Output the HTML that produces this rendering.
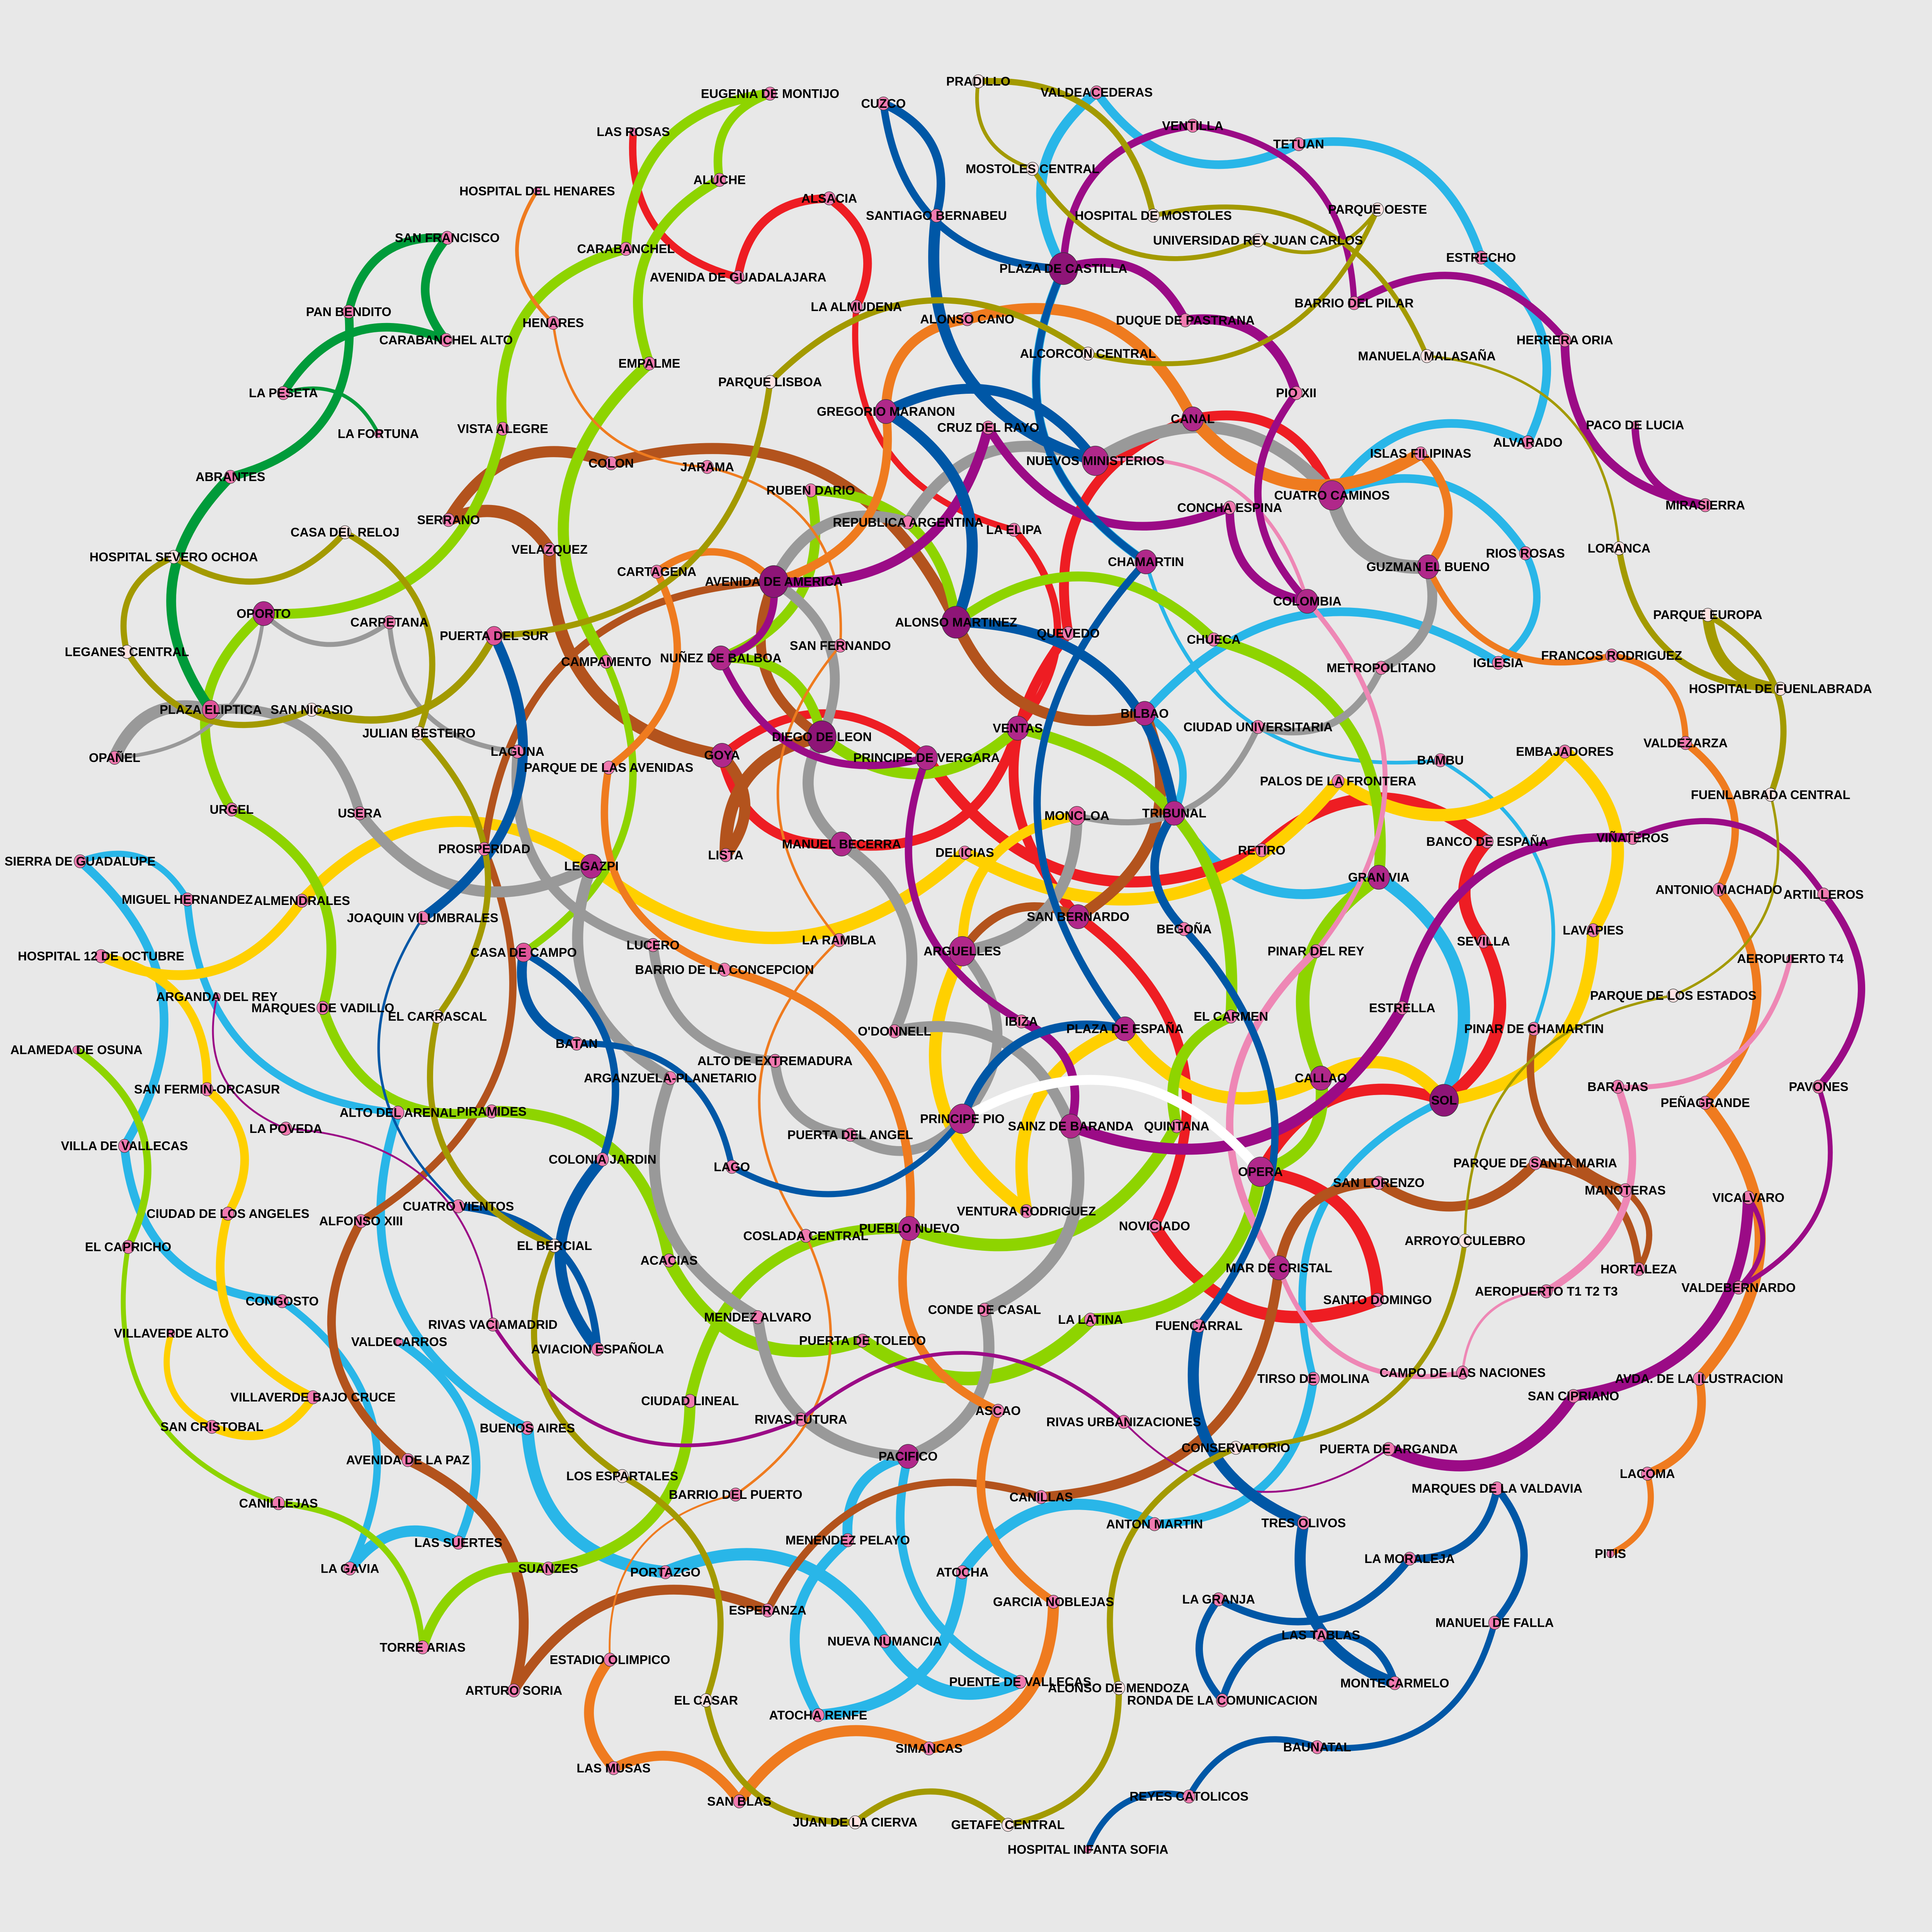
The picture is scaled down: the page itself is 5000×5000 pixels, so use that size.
<!DOCTYPE html>
<html><head><meta charset="utf-8"><title>Madrid Metro network graph</title>
<style>
html,body{margin:0;padding:0;background:#e8e8e8;}
#chart{display:block;width:5000px;height:5000px;}
.lbl{font-family:"Liberation Sans Narrow","Liberation Sans",sans-serif;font-weight:bold;font-size:10.2px;fill:#000;text-anchor:middle;dominant-baseline:central;}
</style></head>
<body>
<svg id="chart" viewBox="0 0 1568 1568" xmlns="http://www.w3.org/2000/svg">
<rect x="0" y="0" width="1568" height="1568" fill="#e8e8e8"/>
<g id="edges"></g>
<g id="nodes"></g>
<g id="labels"></g>
</svg>
<script>
const stations = [
["EUGENIA DE MONTIJO",625,76],["LAS ROSAS",514,107],["HOSPITAL DEL HENARES",436,155],["ALUCHE",584,146],["ALSACIA",673,161],
["CUZCO",717,84],["PRADILLO",794,66],["VALDEACEDERAS",890,75],["VENTILLA",968,102],["TETUAN",1054,117],
["MOSTOLES CENTRAL",838,137],["SANTIAGO BERNABEU",760,175],["HOSPITAL DE MOSTOLES",936,175],["PARQUE OESTE",1118,170],
["UNIVERSIDAD REY JUAN CARLOS",1021,195],["SAN FRANCISCO",363,193],["CARABANCHEL",508,202],["AVENIDA DE GUADALAJARA",599,225],
["PLAZA DE CASTILLA",863,218],["ESTRECHO",1202,209],["LA ALMUDENA",695,249],["PAN BENDITO",283,253],["HENARES",449,262],
["DUQUE DE PASTRANA",962,260],["BARRIO DEL PILAR",1099,246],["CARABANCHEL ALTO",362,276],["ALONSO CANO",785,259],
["HERRERA ORIA",1270,276],["EMPALME",527,295],["ALCORCON CENTRAL",883,287],["MANUELA MALASAÑA",1158,289],
["PARQUE LISBOA",625,310],["LA PESETA",230,319],["PIO XII",1052,319],["GREGORIO MARANON",719,334],["LA FORTUNA",307,352],
["CANAL",968,340],["CRUZ DEL RAYO",802,347],["PACO DE LUCIA",1327,345],["VISTA ALEGRE",408,348],["ALVARADO",1240,359],
["ISLAS FILIPINAS",1153,368],["NUEVOS MINISTERIOS",889,374],["COLON",496,376],["JARAMA",574,379],["ABRANTES",187,387],
["RUBEN DARIO",658,398],["CUATRO CAMINOS",1081,402],["MIRASIERRA",1384,410],["CONCHA ESPINA",998,412],["SERRANO",364,422],
["REPUBLICA ARGENTINA",737,424],["LA ELIPA",823,430],["CASA DEL RELOJ",280,432],["LORANCA",1314,445],["VELAZQUEZ",446,446],
["HOSPITAL SEVERO OCHOA",141,452],["RIOS ROSAS",1238,449],["GUZMAN EL BUENO",1159,460],["CHAMARTIN",930,456],
["CARTAGENA",533,464],["AVENIDA DE AMERICA",628,472],["COLOMBIA",1061,488],["OPORTO",214,498],["PARQUE EUROPA",1386,499],
["ALONSO MARTINEZ",776,505],["CARPETANA",316,505],["PUERTA DEL SUR",401,516],["QUEVEDO",867,514],["CHUECA",985,519],
["SAN FERNANDO",682,524],["LEGANES CENTRAL",103,529],["FRANCOS RODRIGUEZ",1308,532],["IGLESIA",1216,538],["CAMPAMENTO",492,537],
["NUÑEZ DE BALBOA",585,534],["METROPOLITANO",1121,542],["HOSPITAL DE FUENLABRADA",1445,559],["PLAZA ELIPTICA",171,576],
["SAN NICASIO",253,576],["BILBAO",929,579],["CIUDAD UNIVERSITARIA",1021,590],["VENTAS",826,591],["JULIAN BESTEIRO",340,595],
["DIEGO DE LEON",667,598],["VALDEZARZA",1368,603],["EMBAJADORES",1270,610],["GOYA",586,613],["OPAÑEL",93,615],
["PRINCIPE DE VERGARA",752,615],["BAMBU",1169,617],["LAGUNA",420,610],["PARQUE DE LAS AVENIDAS",494,623],
["PALOS DE LA FRONTERA",1086,634],["FUENLABRADA CENTRAL",1437,645],["USERA",292,660],["TRIBUNAL",953,660],["MONCLOA",874,662],
["URGEL",188,657],["LISTA",589,694],["RETIRO",1024,690],["BANCO DE ESPAÑA",1207,683],["MANUEL BECERRA",683,685],
["PROSPERIDAD",393,689],["VIÑATEROS",1325,680],["DELICIAS",783,692],["LEGAZPI",480,703],["SIERRA DE GUADALUPE",65,699],
["ANTONIO MACHADO",1395,722],["ARTILLEROS",1480,726],["MIGUEL HERNANDEZ",152,730],["GRAN VIA",1119,712],["ALMENDRALES",245,731],
["JOAQUIN VILUMBRALES",343,745],["SAN BERNARDO",875,744],["BEGOÑA",961,754],["LAVAPIES",1293,755],["SEVILLA",1204,764],
["LA RAMBLA",681,763],["LUCERO",530,767],["ARGUELLES",781,772],["PINAR DEL REY",1068,772],["CASA DE CAMPO",425,773],
["HOSPITAL 12 DE OCTUBRE",82,776],["AEROPUERTO T4",1453,778],["BARRIO DE LA CONCEPCION",588,787],["PARQUE DE LOS ESTADOS",1358,808],
["ARGANDA DEL REY",176,809],["ESTRELLA",1138,818],["MARQUES DE VADILLO",262,818],["EL CARRASCAL",355,825],["EL CARMEN",999,825],
["IBIZA",829,829],["PINAR DE CHAMARTIN",1245,835],["PLAZA DE ESPAÑA",913,835],["O'DONNELL",726,837],["BATAN",468,847],
["ALAMEDA DE OSUNA",62,852],["ALTO DE EXTREMADURA",629,861],["CALLAO",1072,875],["ARGANZUELA-PLANETARIO",544,875],
["SOL",1172,893],["SAN FERMIN-ORCASUR",168,884],["BARAJAS",1313,882],["PAVONES",1476,882],["PIRAMIDES",399,902],
["ALTO DEL ARENAL",323,903],["PEÑAGRANDE",1384,895],["PRINCIPE PIO",781,908],["SAINZ DE BARANDA",869,914],["QUINTANA",955,914],
["LA POVEDA",232,916],["PUERTA DEL ANGEL",690,921],["VILLA DE VALLECAS",101,930],["COLONIA JARDIN",489,941],
["PARQUE DE SANTA MARIA",1246,944],["OPERA",1023,951],["LAGO",594,947],["SAN LORENZO",1119,960],["MANOTERAS",1319,966],
["VICALVARO",1419,972],["CUATRO VIENTOS",372,979],["VENTURA RODRIGUEZ",833,983],["CIUDAD DE LOS ANGELES",185,985],
["ALFONSO XIII",293,991],["NOVICIADO",937,995],["PUEBLO NUEVO",738,997],["COSLADA CENTRAL",654,1003],["ARROYO CULEBRO",1189,1007],
["EL CAPRICHO",104,1012],["EL BERCIAL",450,1011],["ACACIAS",543,1023],["MAR DE CRISTAL",1038,1029],["HORTALEZA",1330,1030],
["CONGOSTO",229,1056],["AEROPUERTO T1 T2 T3",1255,1048],["VALDEBERNARDO",1411,1045],["SANTO DOMINGO",1118,1055],
["MENDEZ ALVARO",615,1069],["CONDE DE CASAL",799,1063],["RIVAS VACIAMADRID",400,1075],["LA LATINA",885,1071],
["FUENCARRAL",973,1076],["VILLAVERDE ALTO",139,1082],["PUERTA DE TOLEDO",700,1088],["VALDECARROS",324,1089],
["AVIACION ESPAÑOLA",485,1095],["TIRSO DE MOLINA",1066,1119],["CAMPO DE LAS NACIONES",1187,1114],
["AVDA. DE LA ILUSTRACION",1379,1119],["VILLAVERDE BAJO CRUCE",254,1134],["CIUDAD LINEAL",560,1137],["SAN CIPRIANO",1277,1133],
["ASCAO",810,1145],["RIVAS URBANIZACIONES",912,1154],["RIVAS FUTURA",650,1152],["SAN CRISTOBAL",172,1158],["BUENOS AIRES",428,1159],
["CONSERVATORIO",1003,1175],["PUERTA DE ARGANDA",1127,1176],["PACIFICO",737,1182],["AVENIDA DE LA PAZ",331,1185],
["LOS ESPARTALES",505,1198],["LACOMA",1337,1196],["MARQUES DE LA VALDAVIA",1215,1208],["BARRIO DEL PUERTO",597,1213],
["CANILLAS",845,1215],["CANILLEJAS",226,1220],["ANTON MARTIN",937,1237],["TRES OLIVOS",1058,1236],["MENENDEZ PELAYO",688,1250],
["LAS SUERTES",372,1252],["PITIS",1307,1261],["LA MORALEJA",1144,1265],["LA GAVIA",284,1273],["SUANZES",445,1273],
["ATOCHA",781,1276],["PORTAZGO",540,1276],["LA GRANJA",989,1298],["GARCIA NOBLEJAS",855,1300],["ESPERANZA",623,1307],
["MANUEL DE FALLA",1213,1317],["LAS TABLAS",1072,1327],["NUEVA NUMANCIA",718,1332],["TORRE ARIAS",343,1337],
["ESTADIO OLIMPICO",495,1347],["PUENTE DE VALLECAS",828,1365],["MONTECARMELO",1132,1366],["ALONSO DE MENDOZA",908,1370],
["ARTURO SORIA",417,1372],["EL CASAR",573,1380],["RONDA DE LA COMUNICACION",992,1380],["ATOCHA RENFE",664,1392],
["SIMANCAS",754,1419],["BAUNATAL",1069,1418],["LAS MUSAS",498,1435],["SAN BLAS",600,1462],["REYES CATOLICOS",965,1458],
["JUAN DE LA CIERVA",694,1479],["GETAFE CENTRAL",818,1481],["HOSPITAL INFANTA SOFIA",883,1501]
];

const line1Stops = ["PINAR DE CHAMARTIN","BAMBU","CHAMARTIN","PLAZA DE CASTILLA","VALDEACEDERAS","TETUAN","ESTRECHO","ALVARADO","CUATRO CAMINOS","RIOS ROSAS","IGLESIA","BILBAO","TRIBUNAL","GRAN VIA","SOL","TIRSO DE MOLINA","ANTON MARTIN","ATOCHA","ATOCHA RENFE","MENENDEZ PELAYO","PACIFICO","PUENTE DE VALLECAS","NUEVA NUMANCIA","PORTAZGO","BUENOS AIRES","ALTO DEL ARENAL","MIGUEL HERNANDEZ","SIERRA DE GUADALUPE","VILLA DE VALLECAS","CONGOSTO","LA GAVIA","LAS SUERTES","VALDECARROS"];
const line1Bend = [-1,1,1,1,-1,1,1,-1,1,1,-1,1,-1,1,-1,1,-1,1,1,1,-1,1,-1,1,1,1,-1,1,-1,1,1,-1];
const line1Width = [3,3,7,8,7,7,7,7,7,6,7,6,8,10,6,7,9,9,8,8,7,10,10,10,7,6,5,7,7,6,9,7];

const line2Stops = ["LAS ROSAS","AVENIDA DE GUADALAJARA","ALSACIA","LA ALMUDENA","LA ELIPA","VENTAS","MANUEL BECERRA","GOYA","PRINCIPE DE VERGARA","RETIRO","BANCO DE ESPAÑA","SEVILLA","SOL","OPERA","SANTO DOMINGO","NOVICIADO","SAN BERNARDO","QUEVEDO","CANAL","CUATRO CAMINOS"];
const line2Bend = [-1,1,1,-1,1,1,1,1,-1,1,-1,1,-1,1,1,-1,1,1,1];
const line2Width = [6,7,7,5,6,8,8,7,9,10,10,10,9,10,10,8,8,8,8];

const line3Stops = ["VILLAVERDE ALTO","SAN CRISTOBAL","VILLAVERDE BAJO CRUCE","CIUDAD DE LOS ANGELES","SAN FERMIN-ORCASUR","HOSPITAL 12 DE OCTUBRE","ALMENDRALES","LEGAZPI","DELICIAS","PALOS DE LA FRONTERA","EMBAJADORES","LAVAPIES","SOL","CALLAO","PLAZA DE ESPAÑA","VENTURA RODRIGUEZ","ARGUELLES","MONCLOA"];
const line3Bend = [-1,-1,1,-1,-1,-1,1,-1,-1,-1,1,1,-1,1,-1,1,1];
const line3Width = [5,7,7,7,7,8,9,10,10,10,10,10,10,10,10,10,8];

const line4Stops = ["ARGUELLES","SAN BERNARDO","BILBAO","ALONSO MARTINEZ","COLON","SERRANO","VELAZQUEZ","GOYA","LISTA","DIEGO DE LEON","AVENIDA DE AMERICA","PROSPERIDAD","ALFONSO XIII","AVENIDA DE LA PAZ","ARTURO SORIA","ESPERANZA","CANILLAS","MAR DE CRISTAL","SAN LORENZO","PARQUE DE SANTA MARIA","HORTALEZA","MANOTERAS","PINAR DE CHAMARTIN"];
const line4Bend = [1,-1,1,-1,-1,1,-1,1,1,1,-1,1,-1,1,1,1,-1,1,-1,1,-1,1];
const line4Width = [7,9,9,9,9,10,10,9,10,8,6,6,7,8,8,6,8,8,8,6,5,6];

const line5Stops = ["ALAMEDA DE OSUNA","EL CAPRICHO","CANILLEJAS","TORRE ARIAS","SUANZES","CIUDAD LINEAL","PUEBLO NUEVO","QUINTANA","EL CARMEN","VENTAS","DIEGO DE LEON","NUÑEZ DE BALBOA","RUBEN DARIO","ALONSO MARTINEZ","CHUECA","GRAN VIA","CALLAO","OPERA","LA LATINA","PUERTA DE TOLEDO","ACACIAS","PIRAMIDES","MARQUES DE VADILLO","URGEL","OPORTO","VISTA ALEGRE","CARABANCHEL","EUGENIA DE MONTIJO","ALUCHE","EMPALME","CAMPAMENTO","CASA DE CAMPO"];
const line5Bend = [1,-1,1,1,-1,1,-1,1,-1,1,-1,-1,1,1,1,-1,1,1,1,1,-1,1,-1,1,-1,1,1,-1,-1,-1,1];
const line5Width = [6,4,5,8,9,9,10,9,9,9,8,8,8,8,9,11,10,10,11,10,9,8,8,8,8,8,8,7,8,9,6];

const line6Stops = ["LAGUNA","CARPETANA","OPORTO","OPAÑEL","PLAZA ELIPTICA","USERA","LEGAZPI","ARGANZUELA-PLANETARIO","MENDEZ ALVARO","PACIFICO","CONDE DE CASAL","SAINZ DE BARANDA","O'DONNELL","MANUEL BECERRA","DIEGO DE LEON","AVENIDA DE AMERICA","REPUBLICA ARGENTINA","NUEVOS MINISTERIOS","CUATRO CAMINOS","GUZMAN EL BUENO","METROPOLITANO","CIUDAD UNIVERSITARIA","MONCLOA","ARGUELLES","PRINCIPE PIO","PUERTA DEL ANGEL","ALTO DE EXTREMADURA","LUCERO","LAGUNA"];
const line6Bend = [1,1,1,1,1,-1,-1,-1,-1,-1,-1,-1,-1,1,-1,1,1,1,-1,1,1,1,1,1,1,1,1,1];
const line6Width = [4,4,3,10,8,9,9,9,9,9,10,9,9,9,8,9,9,10,11,8,6,5,9,8,8,8,8,8];

const line7Stops = ["HOSPITAL DEL HENARES","HENARES","JARAMA","SAN FERNANDO","LA RAMBLA","COSLADA CENTRAL","BARRIO DEL PUERTO","ESTADIO OLIMPICO","LAS MUSAS","SAN BLAS","SIMANCAS","GARCIA NOBLEJAS","ASCAO","PUEBLO NUEVO","BARRIO DE LA CONCEPCION","PARQUE DE LAS AVENIDAS","CARTAGENA","AVENIDA DE AMERICA","GREGORIO MARANON","ALONSO CANO","CANAL","ISLAS FILIPINAS","GUZMAN EL BUENO","FRANCOS RODRIGUEZ","VALDEZARZA","ANTONIO MACHADO","PEÑAGRANDE","AVDA. DE LA ILUSTRACION","LACOMA","PITIS"];
const line7Bend = [-1,-1,1,-1,-1,1,-1,-1,1,1,-1,1,1,-1,1,-1,1,-1,1,1,-1,1,-1,1,1,1,1,1,1];
const line7Width = [3,2,2,2,2,2,1.5,8,8,9,9,7,7,7,6,6,6,7,8,9,10,7,5,5,6,7,9,7,5];

const line8Stops = ["NUEVOS MINISTERIOS","COLOMBIA","PINAR DEL REY","MAR DE CRISTAL","CAMPO DE LAS NACIONES","AEROPUERTO T1 T2 T3","BARAJAS","AEROPUERTO T4"];
const line8Bend = [1,1,-1,-1,1,-1,-1];
const line8Width = [3,4,6,4,2,6,4];

const line9Stops = ["PACO DE LUCIA","MIRASIERRA","HERRERA ORIA","BARRIO DEL PILAR","VENTILLA","PLAZA DE CASTILLA","DUQUE DE PASTRANA","PIO XII","COLOMBIA","CONCHA ESPINA","CRUZ DEL RAYO","AVENIDA DE AMERICA","NUÑEZ DE BALBOA","PRINCIPE DE VERGARA","IBIZA","SAINZ DE BARANDA","ESTRELLA","VIÑATEROS","ARTILLEROS","PAVONES","VALDEBERNARDO","VICALVARO","SAN CIPRIANO","PUERTA DE ARGANDA","RIVAS URBANIZACIONES","RIVAS FUTURA","RIVAS VACIAMADRID","LA POVEDA","ARGANDA DEL REY"];
const line9Bend = [-1,1,-1,-1,-1,1,1,-1,1,1,1,1,-1,-1,1,-1,1,1,1,1,-1,1,1,1,-1,1,-1,1];
const line9Width = [6,7,6,5,6,7,8,6,7,7,8,6,6,6,7,9,7,5,6,4,4,9,9,1.5,3,3,1.5,1.5];

const line10Stops = ["HOSPITAL INFANTA SOFIA","REYES CATOLICOS","BAUNATAL","MANUEL DE FALLA","MARQUES DE LA VALDAVIA","LA MORALEJA","LA GRANJA","RONDA DE LA COMUNICACION","LAS TABLAS","MONTECARMELO","TRES OLIVOS","FUENCARRAL","BEGOÑA","TRIBUNAL","ALONSO MARTINEZ","GREGORIO MARANON","NUEVOS MINISTERIOS","SANTIAGO BERNABEU","CUZCO","PLAZA DE CASTILLA","CHAMARTIN","PLAZA DE ESPAÑA","PRINCIPE PIO","LAGO","BATAN","CASA DE CAMPO","COLONIA JARDIN","AVIACION ESPAÑOLA","CUATRO VIENTOS","JOAQUIN VILUMBRALES","PUERTA DEL SUR"];
const line10Bend = [1,1,-1,-1,1,1,-1,1,1,1,1,-1,1,-1,-1,1,1,-1,-1,-1,-1,-1,1,-1,1,1,-1,-1,1,-1];
const line10Width = [5,5,5,6,6,6,6,6,6,9,9,6,7,8,9,8,9,7,6,6,6,7,5,5,8,6,9,6,2,8];

const line11Stops = ["PLAZA ELIPTICA","ABRANTES","PAN BENDITO","SAN FRANCISCO","CARABANCHEL ALTO","LA PESETA","LA FORTUNA"];
const line11Bend = [1,-1,1,-1,-1,1];
const line11Width = [8,7,7,7,7,3];

const line12Stops = ["PUERTA DEL SUR","PARQUE LISBOA","ALCORCON CENTRAL","PARQUE OESTE","UNIVERSIDAD REY JUAN CARLOS","MOSTOLES CENTRAL","PRADILLO","HOSPITAL DE MOSTOLES","MANUELA MALASAÑA","LORANCA","HOSPITAL DE FUENLABRADA","PARQUE EUROPA","FUENLABRADA CENTRAL","PARQUE DE LOS ESTADOS","ARROYO CULEBRO","CONSERVATORIO","ALONSO DE MENDOZA","GETAFE CENTRAL","JUAN DE LA CIERVA","EL CASAR","LOS ESPARTALES","EL BERCIAL","EL CARRASCAL","JULIAN BESTEIRO","CASA DEL RELOJ","HOSPITAL SEVERO OCHOA","LEGANES CENTRAL","SAN NICASIO","PUERTA DEL SUR"];
const line12Bend = [-1,1,-1,1,1,1,1,1,1,-1,1,1,1,-1,1,-1,1,-1,1,-1,1,1,-1,-1,1,-1,-1,-1];
const line12Width = [5,5,4,3,4,3,5,4,2,5,9,5,2,2,4,5,5,5,5,5,5,5,5,5,5,5,5,6];

const lineRStops = ["OPERA","PRINCIPE PIO"];
const lineRBend = [-1];
const lineRWidth = [8];

const lineColors = ["#29b6e8","#ee1d23","#ffd000","#b3531d","#8ed400","#999999","#ef7b1f","#ee87b5","#9b0b86","#0057a6","#009b3a","#a39a00","#ffffff"];
const lineNames = ["line-1","line-2","line-3","line-4","line-5","line-6","line-7","line-8","line-9","line-10","line-11","line-12","line-r"];
const allStops = [line1Stops,line2Stops,line3Stops,line4Stops,line5Stops,line6Stops,line7Stops,line8Stops,line9Stops,line10Stops,line11Stops,line12Stops,lineRStops];
const allBends = [line1Bend,line2Bend,line3Bend,line4Bend,line5Bend,line6Bend,line7Bend,line8Bend,line9Bend,line10Bend,line11Bend,line12Bend,lineRBend];
const allWidths = [line1Width,line2Width,line3Width,line4Width,line5Width,line6Width,line7Width,line8Width,line9Width,line10Width,line11Width,line12Width,lineRWidth];

const NS = "http://www.w3.org/2000/svg";
const pos = {};
stations.forEach(s => { pos[s[0]] = {x: s[1], y: s[2]}; });
const degree = {};
const onlyL12 = {};
const BEND = 0.42;

const edgesG = document.getElementById("edges");
allStops.forEach((stops, li) => {
  const g = document.createElementNS(NS, "g");
  
  
  edgesG.appendChild(g);
  for (let i = 0; i < stops.length - 1; i++) {
    const a = pos[stops[i]], b = pos[stops[i + 1]];
    if (!a || !b) continue;
    [stops[i], stops[i + 1]].forEach(n => {
      degree[n] = (degree[n] || 0) + 1;
      if (onlyL12[n] === undefined) onlyL12[n] = (li === 11);
      else if (li !== 11) onlyL12[n] = false;
    });
    const dx = b.x - a.x, dy = b.y - a.y;
    const s = allBends[li][i] || 1;
    const cx = (a.x + b.x) / 2 + s * BEND * dy;
    const cy = (a.y + b.y) / 2 - s * BEND * dx;
    const p = document.createElementNS(NS, "path");
    p.setAttribute("d", `M${a.x},${a.y} Q${cx},${cy} ${b.x},${b.y}`);
    p.setAttribute("fill", "none");
    p.setAttribute("stroke", lineColors[li]);
    p.setAttribute("stroke-width", allWidths[li][i] || 6);
    
    
    g.appendChild(p);
  }
});

const nodesG = document.getElementById("nodes");
const labelsG = document.getElementById("labels");
stations.forEach(s => {
  const d = degree[s[0]] || 1;
  const r = Math.min(13, 3.2 + (d - 1) * 2.2);
  let fill = d >= 6 ? "#8e1577" : d >= 4 ? "#b0288a" : d >= 3 ? "#e0559a" : "#f07ab0";
  if (onlyL12[s[0]]) fill = "#fde2e2";
  const c = document.createElementNS(NS, "ellipse");
  c.setAttribute("cx", s[1]); c.setAttribute("cy", s[2]);
  c.setAttribute("rx", r * 0.9); c.setAttribute("ry", r);
  c.setAttribute("fill", fill);
  c.setAttribute("stroke", "#333"); c.setAttribute("stroke-width", "0.4");
  
  
  nodesG.appendChild(c);
  const t = document.createElementNS(NS, "text");
  t.setAttribute("x", s[1]); t.setAttribute("y", s[2]);
  t.setAttribute("class", "lbl");
  t.textContent = s[0];
  
  
  labelsG.appendChild(t);
});
</script>
</body></html>
